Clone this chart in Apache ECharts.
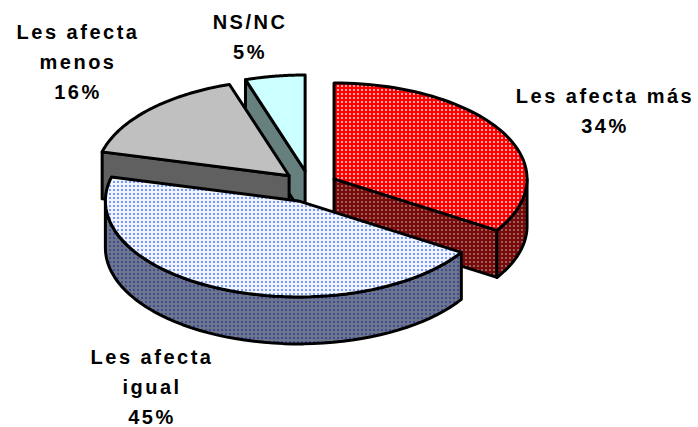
<!DOCTYPE html>
<html>
<head>
<meta charset="utf-8">
<style>
  html, body { margin: 0; background: #fff; }
  #main { width: 698px; height: 427px; letter-spacing: 2.5px; }
</style>
<script src="https://cdn.jsdelivr.net/npm/echarts@6/dist/echarts.min.js"></script>
</head>
<body>
<div id="main"></div>
<script>
// datos
const categories = ['Les afecta más', 'Les afecta\nigual', 'Les afecta\nmenos', 'NS/NC']
const values = [34, 45, 16, 5]

const topColors = [
  ['#ff0000', '#ffa8a8'],
  ['#f0f4ff', '#7a98f4'],
  ['#c0c0c0', null],
  ['#ccffff', null]
]
const sideColors = [
  ['#7c0808', '#8c6464'],
  ['#70768a', '#3c4c9c'],
  ['#606060', null],
  ['#668080', null]
]
const labelPos = [[605, 111], [152, 387], [78, 62], [250, 37]]

// centro y radios de la elipse en pixeles
const cx = 309.5, cy = 186.5, rx = 193, ry = 96, depth = 47
const explodeX = 28, explodeY = 15.7

function dots (c) {
  if (!c[1]) return c[0]
  let cv = document.createElement('canvas')
  cv.width = cv.height = 4
  let g = cv.getContext('2d')
  g.fillStyle = c[0]
  g.fillRect(0, 0, 4, 4)
  g.fillStyle = c[1]
  g.fillRect(1, 1, 2, 2)
  return { image: cv, repeat: 'repeat' }
}

const total = values.reduce((a, b) => a + b, 0)
const rad = p => p / total * Math.PI * 2

function renderSlice (params, api) {
  let i = params.dataIndex
  let before = values.slice(0, i).reduce((a, b) => a + b, 0)
  let a0 = rad(before)
  let a1 = rad(before + api.value(0))
  let mid = (a0 + a1) / 2
  let ax = cx + explodeX * Math.sin(mid)
  let ay = cy - explodeY * Math.cos(mid)
  let z = Math.round(ay) * 2
  let at = a => [ax + rx * Math.sin(a), ay - ry * Math.cos(a)]
  let down = p => [p[0], p[1] + depth]
  let line = { stroke: '#000', lineWidth: 3, lineJoin: 'round' }
  let poly = (points, fill) => ({
    type: 'polygon',
    z2: z,
    shape: { points: points },
    style: Object.assign({ fill: fill }, line)
  })

  let top = [[ax, ay]]
  for (let k = 0; k <= 60; k++) top.push(at(a0 + (a1 - a0) * k / 60))

  let side = dots(sideColors[i])
  let children = []
  // caras de corte que miran al frente
  if (Math.sin(a0) < -0.001) children.push(poly([[ax, ay], at(a0), down(at(a0)), [ax, ay + depth]], side))
  if (Math.sin(a1) > 0.001) children.push(poly([[ax, ay], at(a1), down(at(a1)), [ax, ay + depth]], side))
  // pared exterior, solo la mitad frontal
  let w0 = Math.max(a0, Math.PI / 2)
  let w1 = Math.min(a1, Math.PI * 1.5)
  if (w1 > w0) {
    let upper = []
    for (let k = 0; k <= 50; k++) upper.push(at(w0 + (w1 - w0) * k / 50))
    children.push(poly(upper.concat(upper.map(down).reverse()), side))
  }
  children.push(poly(top, dots(topColors[i])))
  children.push({
    type: 'text',
    z2: 1000,
    x: labelPos[i][0],
    y: labelPos[i][1],
    style: {
      text: categories[i] + '\n' + api.value(0) + '%',
      fill: '#000',
      font: 'bold 20px "Liberation Sans", Arial, sans-serif',
      lineHeight: 30,
      align: 'center',
      verticalAlign: 'middle'
    }
  })
  return { type: 'group', children: children }
}

let myChart = echarts.init(document.getElementById('main'), null, { renderer: 'svg' })
myChart.setOption({
  animation: false,
  backgroundColor: '#fff',
  series: [{
    type: 'custom',
    coordinateSystem: 'none',
    silent: true,
    data: values.map(v => [v]),
    renderItem: renderSlice
  }]
})
</script>
</body>
</html>
